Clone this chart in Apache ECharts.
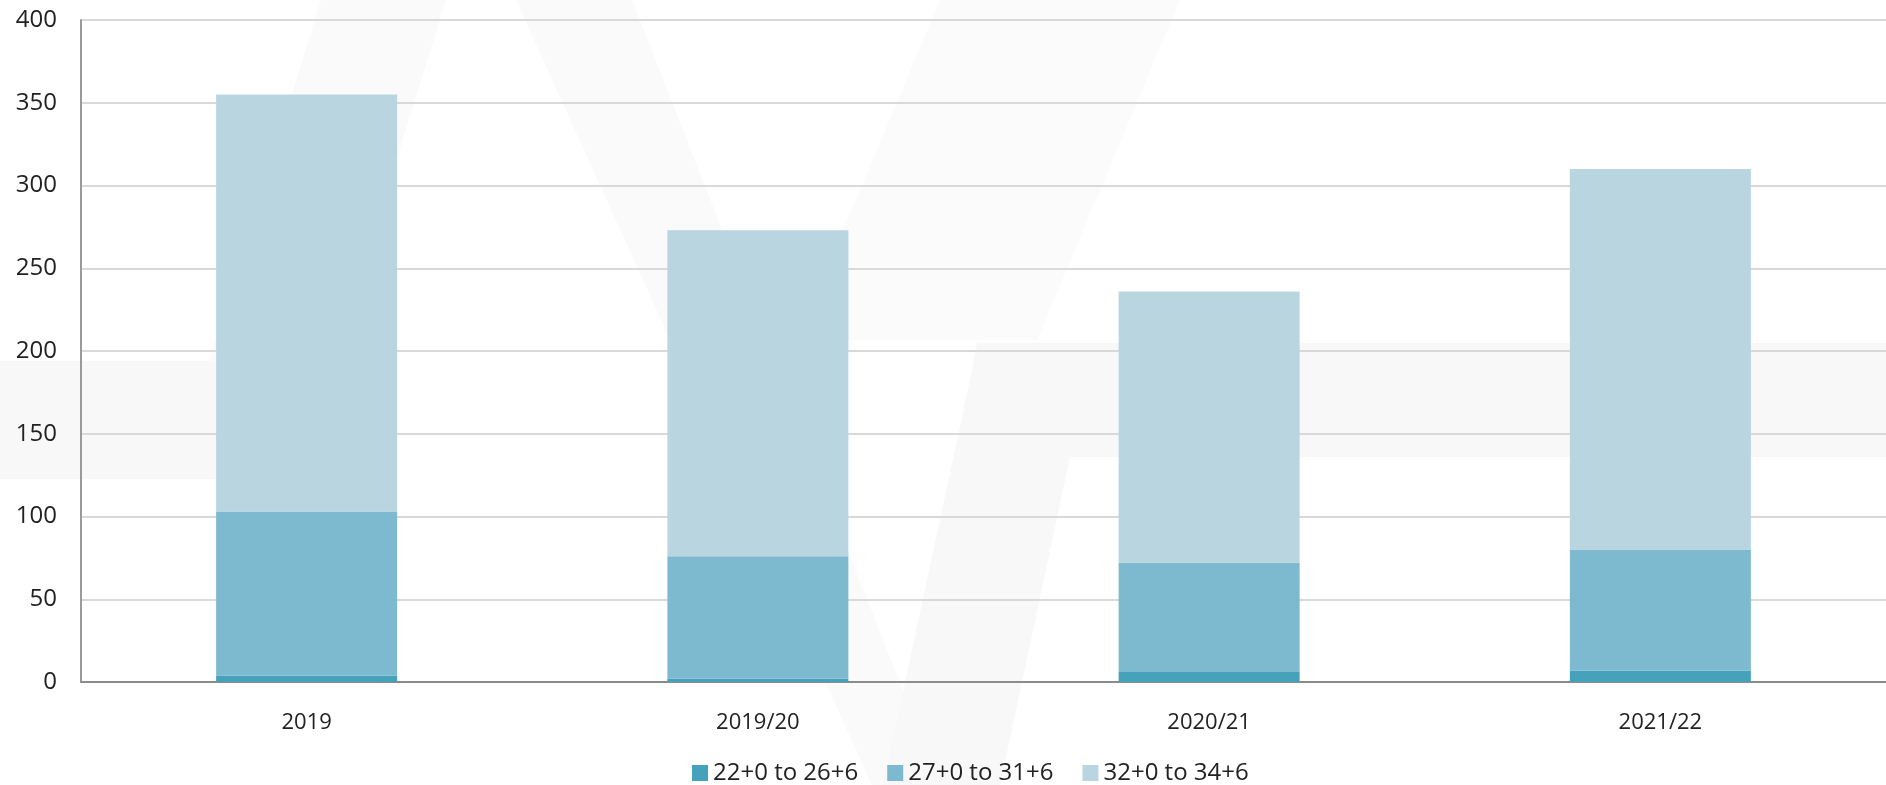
<!DOCTYPE html>
<html>
<head>
<meta charset="utf-8">
<style type="text/css">
  html, body {margin:0; padding:0; background:#fff;}
  #chart {width:1886px; height:785px;}
</style>
<script src="https://cdn.jsdelivr.net/npm/echarts@6/dist/echarts.min.js"></script>
</head>
<body>
<div id="chart"></div>
<script type="text/javascript">
  // categories and series
  var years = ['2019', '2019/20', '2020/21', '2021/22'];
  var seriesNames = ['22+0 to 26+6', '27+0 to 31+6', '32+0 to 34+6'];
  var early = [4, 2, 6, 7];
  var middle = [99, 74, 66, 73];
  var late = [252, 197, 164, 230];
  var colors = ['#46a1ba', '#7db9cf', '#b8d5e0'];

  var chart = echarts.init(document.getElementById('chart'));
  var values = [early, middle, late];
  var series = [];
  for (var i = 0; i < seriesNames.length; i++) {
    series.push({
      name: seriesNames[i],
      type: 'bar',
      stack: 'total',
      barWidth: 181,
      data: values[i],
      itemStyle: {color: colors[i]}
    });
  }

  // faint logo watermark behind the plot
  function shape(pts, fill) {
    return {type: 'polygon', z: -10, silent: true, shape: {points: pts}, style: {fill: fill}};
  }

  chart.setOption({
    animation: false,
    textStyle: {fontFamily: 'Open Sans'},
    graphic: [
      shape([[0, 361], [300, 361], [270, 479], [0, 479]], '#f8f8f8'),
      shape([[321, 0], [446, 0], [334, 361], [209, 361]], '#fafafa'),
      shape([[516, 0], [632, 0], [940, 785], [872, 785]], '#fafafa'),
      shape([[940, 0], [1180, 0], [1037, 340], [797, 340]], '#fbfbfb'),
      shape([[977, 343], [1886, 343], [1886, 457], [1070, 457], [1000, 785], [883, 785], [970, 380]], '#f8f8f8')
    ],
    grid: {left: 81, right: -6, top: 20, bottom: 103},
    legend: {
      top: 756,
      left: 687,
      itemWidth: 16,
      itemHeight: 16,
      itemGap: 29,
      icon: 'rect',
      textStyle: {fontSize: 24, color: '#222', fontFamily: 'Open Sans'},
      data: seriesNames
    },
    xAxis: {
      type: 'category',
      data: years,
      axisLine: {lineStyle: {color: '#8c8c8c', width: 2}},
      axisTick: {show: false},
      axisLabel: {fontSize: 22, color: '#222', margin: 30}
    },
    yAxis: {
      type: 'value',
      min: 0,
      max: 400,
      interval: 50,
      axisLine: {show: true, lineStyle: {color: '#9a9a9a', width: 2}},
      axisTick: {show: false},
      splitLine: {lineStyle: {color: '#d9d9d9', width: 2}},
      axisLabel: {fontSize: 24, color: '#222', margin: 24}
    },
    series: series
  });
</script>
</body>
</html>
